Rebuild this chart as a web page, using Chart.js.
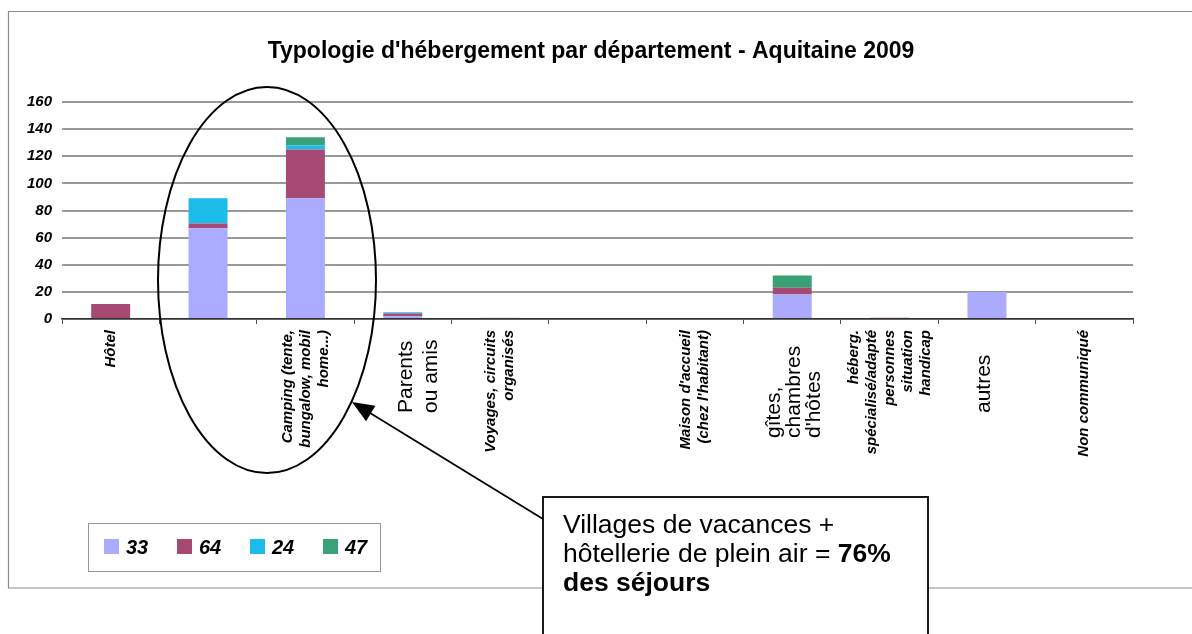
<!DOCTYPE html>
<html>
<head>
<meta charset="utf-8">
<title>Typologie d'hébergement - Aquitaine 2009</title>
<script src="https://cdn.jsdelivr.net/npm/chart.js@4.4.1/dist/chart.umd.min.js"></script>
<style>
    body { margin: 0; background: #fff; }
    canvas { display: block; }
</style>
</head>
<body>
<canvas id="chart" width="1192" height="634"></canvas>
<script>
const FONT = "'Liberation Sans', Arial, sans-serif";

// categories (multi-line labels, empty ones have no label in the source)
const categories = [
    ['Hôtel'],
    [''],
    ['Camping (tente,', 'bungalow, mobil', 'home...)'],
    ['Parents', 'ou amis'],
    ['Voyages, circuits', 'organisés'],
    [''],
    ["Maison d'accueil", "(chez l'habitant)"],
    ['gîtes,', 'chambres', "d'hôtes"],
    ['héberg.', 'spécialisé/adapté', 'personnes', 'situation', 'handicap'],
    ['autres'],
    ['Non communiqué']
];

const deptLabels = ['33', '64', '24', '47'];
const dept33 = [0, 67, 89, 2, 1, 0, 0, 18, 0, 20, 0];
const dept64 = [11, 3.5, 36, 2, 0, 0, 0, 5, 1, 0, 0];
const dept24 = [0, 18.5, 3, 1, 0, 0, 0, 0, 0, 0, 0];
const dept47 = [0, 0, 6, 0, 0, 0, 0, 9, 0, 0, 0];

const yTicks = [0, 20, 40, 60, 80, 100, 120, 140, 160];

const colors = ['#aaaaff', '#a64a73', '#1dbbea', '#3aa076'];

// labels that sit in larger plain type (text boxes pasted over the chart)
const plainLabels = {
    3: { startY: 413, dx: 16, lh: 25 },
    7: { startY: 438, dx: 2, lh: 20 },
    9: { startY: 413, dx: -3, lh: 20 }
};

const overlayPlugin = {
    id: 'overlay',
    beforeDraw(chart) {
        const ctx = chart.ctx;
        ctx.save();
        ctx.fillStyle = '#fff';
        ctx.fillRect(0, 0, chart.width, chart.height);
        // outer frame
        ctx.strokeStyle = '#8c8c8c';
        ctx.lineWidth = 1.2;
        ctx.beginPath();
        ctx.moveTo(1192, 11.5);
        ctx.lineTo(8.5, 11.5);
        ctx.lineTo(8.5, 588);
        ctx.lineTo(1192, 588);
        ctx.stroke();
        ctx.restore();
    },
    afterDraw(chart) {
        const ctx = chart.ctx;
        const xs = chart.scales.x;
        ctx.save();

        // category labels, rotated
        categories.forEach((lines, i) => {
            const cx = xs.getPixelForValue(i);
            const plain = plainLabels[i];
            const lh = plain ? plain.lh : 18;
            lines.forEach((txt, j) => {
                if (!txt) return;
                const lx = cx + (plain ? plain.dx : 0) + (j - (lines.length - 1) / 2) * lh;
                ctx.save();
                if (plain) {
                    ctx.translate(lx, plain.startY);
                    ctx.rotate(-Math.PI / 2);
                    ctx.font = '21px ' + FONT;
                    ctx.textAlign = 'left';
                } else {
                    ctx.translate(lx, 330);
                    ctx.rotate(-Math.PI / 2);
                    ctx.font = 'italic bold 15px ' + FONT;
                    ctx.textAlign = 'right';
                }
                ctx.textBaseline = 'middle';
                ctx.fillStyle = '#000';
                ctx.fillText(txt, 0, 0);
                ctx.restore();
            });
        });

        // legend box
        ctx.strokeStyle = '#999';
        ctx.lineWidth = 1;
        ctx.strokeRect(88.5, 523.5, 292, 48);
        chart.data.datasets.forEach((ds, i) => {
            const x = 104 + i * 73;
            ctx.fillStyle = ds.backgroundColor;
            ctx.fillRect(x, 539, 15, 15);
            ctx.fillStyle = '#000';
            ctx.font = 'italic bold 20px ' + FONT;
            ctx.textAlign = 'left';
            ctx.textBaseline = 'alphabetic';
            ctx.fillText(ds.label, x + 22, 554);
        });

        // ellipse around the two first accommodation types
        ctx.strokeStyle = '#000';
        ctx.lineWidth = 2;
        ctx.beginPath();
        ctx.ellipse(267, 280, 109, 193, 0, 0, Math.PI * 2);
        ctx.stroke();

        // arrow
        const tip = [352, 402], from = [543, 519];
        const ang = Math.atan2(tip[1] - from[1], tip[0] - from[0]);
        ctx.lineWidth = 1.8;
        ctx.beginPath();
        ctx.moveTo(from[0], from[1]);
        ctx.lineTo(tip[0] - 14 * Math.cos(ang), tip[1] - 14 * Math.sin(ang));
        ctx.stroke();
        ctx.fillStyle = '#000';
        ctx.beginPath();
        ctx.moveTo(tip[0], tip[1]);
        ctx.lineTo(tip[0] - 22 * Math.cos(ang) + 9 * Math.sin(ang), tip[1] - 22 * Math.sin(ang) - 9 * Math.cos(ang));
        ctx.lineTo(tip[0] - 22 * Math.cos(ang) - 9 * Math.sin(ang), tip[1] - 22 * Math.sin(ang) + 9 * Math.cos(ang));
        ctx.closePath();
        ctx.fill();

        // annotation box
        ctx.fillStyle = '#fff';
        ctx.fillRect(543, 497, 385, 150);
        ctx.lineWidth = 1.8;
        ctx.strokeRect(543, 497, 385, 150);
        ctx.fillStyle = '#000';
        ctx.textAlign = 'left';
        ctx.textBaseline = 'alphabetic';
        ctx.font = '26.5px ' + FONT;
        ctx.fillText('Villages de vacances +', 563, 533);
        const part = 'hôtellerie de plein air = ';
        ctx.fillText(part, 563, 562);
        const w = ctx.measureText(part).width;
        ctx.font = 'bold 26.5px ' + FONT;
        ctx.fillText('76%', 563 + w, 562);
        ctx.fillText('des séjours', 563, 591);

        ctx.restore();
    }
};

new Chart(document.getElementById('chart'), {
    type: 'bar',
    data: {
        labels: categories,
        datasets: [dept33, dept64, dept24, dept47].map((d, i) => ({
            label: deptLabels[i],
            data: d,
            backgroundColor: colors[i],
            borderWidth: 0,
            barPercentage: 0.4,
            categoryPercentage: 1
        }))
    },
    options: {
        responsive: false,
        animation: false,
        layout: { padding: { left: 0, right: 10, top: 0, bottom: 0 } },
        plugins: {
            legend: { display: false },
            tooltip: { enabled: false },
            title: {
                display: true,
                text: "Typologie d'hébergement par département - Aquitaine 2009",
                color: '#000',
                font: { family: FONT, size: 23, weight: 'bold' },
                padding: { top: 38, bottom: 36.4 }
            }
        },
        scales: {
            x: {
                stacked: true,
                ticks: { display: false },
                grid: { display: true, drawOnChartArea: false, offset: true, tickLength: 5, color: '#555' },
                border: { display: true, color: '#333', width: 1.5 },
                afterFit: s => { s.height = 315; }
            },
            y: {
                stacked: true,
                min: 0,
                max: 160,
                afterBuildTicks: s => { s.ticks = yTicks.map(v => ({ value: v })); },
                ticks: {
                    color: '#000',
                    padding: 10,
                    font: { family: FONT, size: 15, weight: 'bold', style: 'italic' }
                },
                grid: { color: '#999', lineWidth: 2, drawTicks: false },
                border: { display: false },
                afterFit: s => { s.width = 62; }
            },
            // empty right-hand spacer so the plot ends where the source does
            yRight: {
                position: 'right',
                min: 0,
                max: 160,
                ticks: { display: false },
                grid: { display: false },
                border: { display: false },
                afterFit: s => { s.width = 49; }
            }
        }
    },
    plugins: [overlayPlugin]
});
</script>
</body>
</html>
